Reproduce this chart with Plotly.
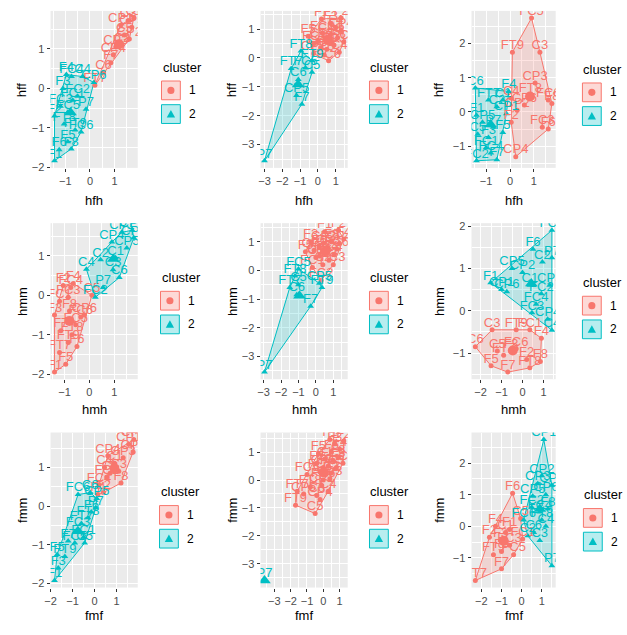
import plotly.graph_objects as go

W, H = 627, 635
RED, TEAL = "#F8766D", "#00BFC4"
COLS = {1: RED, 2: TEAL}
FILLS = {1: "rgba(248,118,109,0.2)", 2: "rgba(0,191,196,0.2)"}
KEYFILLS = {1: "rgba(248,118,109,0.28)", 2: "rgba(0,191,196,0.28)"}
SYMS = {1: "circle", 2: "triangle-up"}
FONT = "Liberation Sans, Arial, sans-serif"

x_titles = ["hfh", "hfh", "hfh", "hmh", "hmh", "hmh", "fmf", "fmf", "fmf"]
y_titles = ["hff", "hff", "hff", "hmm", "hmm", "hmm", "fmm", "fmm", "fmm"]
legend_title = "cluster"
legend_labels = ["1", "2"]

# ---------------- panel 1 (hfh / hff) ----------------
p1_lab = ["CP1", "C3", "C1", "C5", "CP3", "CP5", "C2", "F7", "C6", "CP4", "CP2", "FT7",
          "F1", "F2", "F3", "F4", "F5", "F6", "F8", "FC1", "FC2", "FC3", "FC4", "FC5", "FC6",
          "FT8", "FT9", "C4", "CP6", "P7"]
p1_x = [1.25, 1.55, 1.78, 1.4, 1.05, 1.7, 1.3, 0.85, 0.55, 0.95, 1.6, 0.2,
        -1.44, -1.44, -1.1, -0.96, -0.9, -1.25, -0.76, -0.7, -0.5, -1.2, -0.75, -0.9, -0.36,
        -1.05, -0.6, -0.3, 0.16, -0.16]
p1_y = [1.6, 1.72, 1.78, 1.35, 1.05, 1.55, 1.1, 0.65, 0.4, 0.85, 1.25, 0.08,
        -1.83, -0.7, 0.0, 0.35, -1.35, -1.55, -1.53, -0.3, -0.2, -0.45, 0.3, -0.6, -1.1,
        -0.9, -1.05, 0.3, 0.15, -0.53]
p1_cl = [1] * 12 + [2] * 18

# ---------------- panel 2 (hfh / hff) ----------------
p2_lab = ["P7", "FT7", "FT8", "FT9", "C5", "C6", "F7", "FC5", "CP5",
          "F1", "F2", "F3", "F4", "F5", "F6", "F8", "FC1", "FC2", "FC3", "FC4", "FC6",
          "C1", "C2", "C3", "C4", "CP1", "CP2", "CP3", "CP4", "CP6"]
p2_x = [-3.0, -1.5, -0.95, -0.33, -0.33, -1.1, -0.9, -0.7, -1.2,
        0.2, 1.3, 0.7, 1.0, -0.55, 0.4, 1.1, -0.2, 0.25, 0.9, 1.45, 0.6,
        0.0, 0.5, 0.8, 1.2, -0.25, 0.35, 0.7, 1.3, 0.15]
p2_y = [-3.56, -0.37, 0.24, -0.1, -0.5, -0.75, -1.6, -0.35, -1.3,
        1.35, 1.38, 1.2, 1.05, 0.75, 0.6, 0.7, 0.5, 0.85, 0.45, 0.55, -0.1,
        0.6, 0.3, 0.5, 0.2, 0.15, 0.1, 0.8, 0.95, 0.35]
p2_cl = [2] * 9 + [1] * 21

# ---------------- panel 3 (hfh / hff) ----------------
p3_lab = ["FC5", "FT9", "C3", "CP3", "FT8", "FC6", "CP2", "FC3", "CP4", "F8", "F6", "C4", "F2", "CP6",
          "C6", "F4", "FT7", "C2", "C1", "CP1", "F1", "CP5", "P7", "C5", "F3", "F5", "FC1", "FC2",
          "F7", "FC4"]
p3_x = [0.9, 0.1, 1.25, 1.05, 0.85, 1.6, 0.3, 1.35, 0.24, 1.75, 1.6, 0.05, 0.05, 0.6,
        -1.45, -0.05, -0.9, -0.55, -0.3, -0.15, -1.4, -1.15, -0.7, -1.35, -0.9, -0.3, -1.0, -1.4,
        -0.55, -0.8]
p3_y = [2.75, 1.75, 1.75, 0.85, 0.5, 0.35, 0.05, -0.45, -1.31, 0.25, -0.5, 0.4, -0.3, 0.2,
        0.7, 0.6, 0.35, 0.15, 0.35, -0.05, -0.1, -0.3, -0.45, -0.65, -0.75, -0.6, -1.05, -1.43,
        -1.4, -1.2]
p3_cl = [1] * 14 + [2] * 16

# ---------------- panel 4 (hmh / hmm) ----------------
p4_lab = ["C4", "P7", "FC2", "C2", "C1", "C3", "CP4", "CP1", "CP2", "CP3", "CP5", "C6",
          "F1", "F2", "F3", "F4", "F5", "F6", "F7", "F8", "FC1", "FC3", "FC4", "FC5", "FC6",
          "FT7", "FT8", "FT9", "C5", "CP6"]
p4_x = [-0.12, 0.55, 0.24, 0.45, 1.05, 0.95, 0.9, 1.3, 1.72, 1.78, 1.5, 1.2,
        -1.4, -1.05, -1.4, -0.65, -0.95, -0.5, -1.15, -0.8, -1.2, -0.85, -0.75, -0.55, -0.35,
        -1.2, -0.7, -0.85, 0.1, -0.2]
p4_y = [0.66, 0.2, -0.05, 0.9, 0.95, 0.65, 1.35, 1.6, 1.65, 1.46, 1.2, 0.45,
        -1.95, 0.25, -0.5, 0.3, -1.75, -1.3, -0.9, -0.4, -0.15, -0.05, 0.2, -0.75, -0.55,
        -1.45, -1.0, -1.2, 0.0, -0.5]
p4_cl = [2] * 12 + [1] * 18

# ---------------- panel 5 (hmh / hmm) ----------------
p5_lab = ["P7", "FT7", "FC5", "FT8", "C5", "CP5", "FT9", "C6", "F7",
          "F1", "F2", "F3", "F4", "F5", "F6", "F8", "FC1", "FC2", "FC3", "FC4", "FC6",
          "C1", "C2", "C3", "C4", "CP1", "CP2", "CP3", "CP4", "CP6"]
p5_x = [-2.95, -1.5, -1.0, -1.2, -1.0, 0.2, 0.35, -1.1, -0.3,
        0.5, 1.3, -0.3, 1.6, -0.6, 0.2, 0.9, -0.2, 0.3, 1.0, 0.6, 1.2,
        0.0, 0.4, 0.75, 1.05, -0.1, 0.45, 0.7, 1.35, 0.2]
p5_y = [-3.55, -0.6, 0.05, -0.2, -0.5, -0.45, -0.6, -0.85, -1.25,
        1.35, 1.4, 1.0, 1.1, 0.65, 0.8, 1.0, 0.1, -0.35, 0.2, 0.6, 0.75,
        0.45, 0.2, 0.35, 0.55, 0.7, 0.95, 0.8, 0.95, 0.5]
p5_cl = [2] * 9 + [1] * 21

# ---------------- panel 6 (hmh / hmm) ----------------
p6_lab = ["FC5", "F6", "P7", "CP5", "CP2", "F1", "CP1", "CP6", "C1", "FC2", "FC4", "FC3",
          "CP4", "C4", "C2", "CP3",
          "C6", "C3", "FT9", "FC1", "F4", "F8", "FT8", "F7", "F5", "F3", "F2", "FT7", "FC6", "C5"]
p6_x = [1.4, 0.5, 1.4, -0.5, 0.0, -1.52, -1.0, -0.75, 0.35, 0.9, 0.65, 0.45,
        1.2, 1.4, 0.95, 1.3,
        -2.25, -1.45, -0.3, 0.35, 0.9, 0.85, 0.35, -0.7, -1.5, -0.55, 0.2, -0.9, -0.3, -1.2]
p6_y = [1.9, 1.45, 1.25, 1.0, 0.9, 0.66, 0.5, 0.45, 0.6, 0.4, 0.15, -0.05,
        -0.2, -0.46, 1.15, 0.6,
        -0.85, -0.45, -0.45, -0.45, -0.65, -1.2, -1.35, -1.45, -1.3, -0.95, -1.15, -1.05, -0.9, -0.95]
p6_cl = [2] * 16 + [1] * 14

# ---------------- panel 7 (fmf / fmm) ----------------
p7_lab = ["F1", "F3", "F5", "FT9", "F7", "FC5", "FT7", "FC3", "C5", "FC1", "FT8", "FC6",
          "C6", "CP5", "F6", "P7",
          "F4", "FC4", "F2", "FC2", "C4", "C2", "C1", "CP4", "C3", "CP3", "CP1", "CP2", "CP6", "F8"]
p7_x = [-1.82, -1.65, -1.7, -1.35, -1.2, -0.9, -0.6, -0.75, -0.45, -0.5, -0.3, -0.75,
        -0.2, 0.1, -0.15, 0.05,
        0.15, 0.2, 0.4, 0.55, 0.45, 0.7, 0.9, 0.6, 1.1, 1.3, 1.55, 1.78, 1.75, 1.2]
p7_y = [-1.92, -1.6, -1.25, -1.3, -0.9, -0.95, -0.45, -0.6, -0.95, -0.8, -0.3, 0.3,
        0.35, 0.2, -0.15, -0.05,
        0.3, 0.55, 0.35, 0.75, 1.0, 0.85, 1.1, 1.3, 0.9, 1.25, 1.6, 1.72, 1.4, 0.6]
p7_cl = [2] * 16 + [1] * 14

# ---------------- panel 8 (fmf / fmm) ----------------
p8_lab = ["P7",
          "F1", "F2", "F3", "F4", "F5", "F6", "F7", "F8", "FC1", "FC2", "FC3", "FC4", "FC5", "FC6",
          "FT7", "FT8", "FT9", "C1", "C2", "C3", "C4", "C5", "C6", "CP1", "CP2", "CP3", "CP4",
          "CP5", "CP6"]
p8_x = [-3.6,
        0.4, 1.25, 0.7, 1.0, -0.3, 0.5, -0.4, 0.9, -0.2, 0.3, 0.6, 1.2, -1.0, 0.0,
        -1.6, -0.8, -1.7, 0.1, 0.5, 0.8, 0.3, -0.5, -0.4, -0.1, 0.15, 0.4, -0.2,
        -1.2, 0.0]
p8_y = [-3.6,
        1.45, 1.4, 1.3, 1.1, 0.95, 1.0, 0.6, 0.8, 0.3, 0.5, 0.7, 0.6, 0.2, 0.0,
        -0.4, -0.25, -0.9, 0.75, 0.25, 0.45, -0.4, -1.2, -0.55, -0.2, 0.2, 0.05, -0.7,
        -0.5, 0.45]
p8_cl = [2] + [1] * 29

# ---------------- panel 9 (fmf / fmm) ----------------
p9_lab = ["FT7", "F6", "F4", "F2", "C5", "C1", "F1", "F3", "F5", "F7", "FC1", "FC3", "FC5", "FT9",
          "CP1", "CP2", "CP3", "CP4", "CP5", "CP6", "FC2", "F8", "FC4", "FC6", "C6", "C2", "C3",
          "C4", "FT8", "P7"]
p9_x = [-2.3, -0.45, -1.3, -1.6, -0.05, -0.8, -0.6, -1.05, -1.0, -1.0, 0.05, -0.6, -0.4, -1.4,
        1.1, 1.0, 0.8, 1.5, 0.55, 1.2, 0.5, 1.3, 0.9, 0.1, 0.6, 0.3, 0.9,
        1.2, 1.0, 1.5]
p9_y = [-1.72, 1.05, 0.0, -0.35, 0.25, -0.2, -0.1, -0.45, -0.8, -1.35, -0.4, -0.6, -0.9, -0.9,
        2.75, 1.6, 1.35, 1.3, 0.95, 1.0, 0.6, 0.55, 0.45, 0.2, -0.2, -0.3, -0.45,
        0.0, 0.2, -1.25]
p9_cl = [1] * 14 + [2] * 16

panels = [
    (p1_lab, p1_x, p1_y, p1_cl), (p2_lab, p2_x, p2_y, p2_cl), (p3_lab, p3_x, p3_y, p3_cl),
    (p4_lab, p4_x, p4_y, p4_cl), (p5_lab, p5_x, p5_y, p5_cl), (p6_lab, p6_x, p6_y, p6_cl),
    (p7_lab, p7_x, p7_y, p7_cl), (p8_lab, p8_x, p8_y, p8_cl), (p9_lab, p9_x, p9_y, p9_cl),
]

# ---------------- layout geometry (pixels) ----------------
col_x = [(45, 133), (257, 345), (470, 555)]
row_y = [(8, 167), (223, 381), (435, 592)]
leg_pos = [(157, 65), (367, 65), (582, 67), (156, 278), (367, 278), (582, 283),
           (155, 495), (367, 495), (583, 498)]
ytitle_x = [16, 228, 437]
xtitle_y = [200, 412, 620]


def px(v):
    return v / W


def py(v):
    return 1 - v / H


def convex_hull(pts):
    pts = sorted(set(pts))
    if len(pts) <= 2:
        return pts

    def cross(o, a, b):
        return (a[0] - o[0]) * (b[1] - o[1]) - (a[1] - o[1]) * (b[0] - o[0])

    lower = []
    for p in pts:
        while len(lower) >= 2 and cross(lower[-2], lower[-1], p) <= 0:
            lower.pop()
        lower.append(p)
    upper = []
    for p in reversed(pts):
        while len(upper) >= 2 and cross(upper[-2], upper[-1], p) <= 0:
            upper.pop()
        upper.append(p)
    return lower[:-1] + upper[:-1]


fig = go.Figure()
annotations = []
shapes = []
axis_common = dict(
    showgrid=True, gridcolor="white", gridwidth=1.1, zeroline=False,
    ticks="outside", ticklen=3, tickwidth=1, tickcolor="#333333",
    tickfont=dict(family=FONT, size=11, color="#4D4D4D"),
    dtick=1, tick0=0, showline=False, fixedrange=True,
    minor=dict(dtick=0.5, tick0=0, showgrid=True, gridcolor="white", gridwidth=0.5, ticks=""),
)

for i, (lab, xs, ys, cl) in enumerate(panels):
    r, c = divmod(i, 3)
    n = "" if i == 0 else str(i + 1)
    xa, ya = "x" + n, "y" + n

    # hulls
    for k in (1, 2):
        pts = [(x, y) for x, y, g in zip(xs, ys, cl) if g == k]
        h = convex_hull(pts)
        h = h + [h[0]]
        fig.add_trace(go.Scatter(
            x=[p[0] for p in h], y=[p[1] for p in h], mode="lines", fill="toself",
            fillcolor=FILLS[k], line=dict(color=COLS[k], width=1),
            xaxis=xa, yaxis=ya, hoverinfo="skip", showlegend=False))
    # points
    for k in (1, 2):
        gx = [x for x, g in zip(xs, cl) if g == k]
        gy = [y for y, g in zip(ys, cl) if g == k]
        fig.add_trace(go.Scatter(
            x=gx, y=gy, mode="markers",
            marker=dict(symbol=SYMS[k], size=5 if k == 1 else 6, color=COLS[k], line=dict(width=0)),
            xaxis=xa, yaxis=ya, showlegend=False))
    # labels
    for k in (1, 2):
        gx = [x for x, g in zip(xs, cl) if g == k]
        gy = [y for y, g in zip(ys, cl) if g == k]
        gl = [t for t, g in zip(lab, cl) if g == k]
        fig.add_trace(go.Scatter(
            x=gx, y=gy, text=gl, mode="text", textposition="top center",
            textfont=dict(family=FONT, size=13, color=COLS[k]),
            xaxis=xa, yaxis=ya, showlegend=False, hoverinfo="skip"))
    # centers
    for k in (1, 2):
        gx = [x for x, g in zip(xs, cl) if g == k]
        gy = [y for y, g in zip(ys, cl) if g == k]
        cx, cy = sum(gx) / len(gx), sum(gy) / len(gy)
        fig.add_trace(go.Scatter(
            x=[cx], y=[cy], mode="markers",
            marker=dict(symbol=SYMS[k], size=10 if k == 1 else 11, color=COLS[k], line=dict(width=0)),
            xaxis=xa, yaxis=ya, showlegend=False))

    # axis ranges: data range expanded by 5 %
    xmin, xmax = min(xs), max(xs)
    ymin, ymax = min(ys), max(ys)
    ex, ey = 0.05 * (xmax - xmin), 0.05 * (ymax - ymin)
    x0, x1 = col_x[c]
    y0, y1 = row_y[r]
    fig.layout["xaxis" + n] = dict(domain=[px(x0), px(x1)], anchor=ya,
                                   range=[xmin - ex, xmax + ex], **axis_common)
    fig.layout["yaxis" + n] = dict(domain=[py(y1), py(y0)], anchor=xa,
                                   range=[ymin - ey, ymax + ey], **axis_common)

    # axis titles
    annotations.append(dict(text=x_titles[i], x=px((x0 + x1) / 2), y=py(xtitle_y[r]),
                            xref="paper", yref="paper", showarrow=False,
                            font=dict(family=FONT, size=13, color="black"),
                            xanchor="center", yanchor="middle"))
    annotations.append(dict(text=y_titles[i], x=px(ytitle_x[c]), y=py((y0 + y1) / 2),
                            xref="paper", yref="paper", showarrow=False, textangle=-90,
                            font=dict(family=FONT, size=13, color="black"),
                            xanchor="center", yanchor="middle"))

    # legend (drawn like the ggplot guide)
    lx, ty = leg_pos[i]
    annotations.append(dict(text=legend_title, x=px(lx - 1), y=py(ty), xref="paper", yref="paper",
                            showarrow=False, font=dict(family=FONT, size=13, color="black"),
                            xanchor="left", yanchor="middle"))
    for j, k in enumerate((1, 2)):
        top = ty + 14 + j * 24
        shapes.append(dict(type="rect", xref="paper", yref="paper",
                           x0=px(lx), x1=px(lx + 19), y0=py(top + 19), y1=py(top),
                           fillcolor=KEYFILLS[k], line=dict(color=COLS[k], width=1)))
        cxp, cyp = lx + 9.5, top + 9.5
        if k == 1:
            rr = 3.6
            shapes.append(dict(type="circle", xref="paper", yref="paper",
                               x0=px(cxp - rr), x1=px(cxp + rr), y0=py(cyp + rr), y1=py(cyp - rr),
                               fillcolor=RED, line=dict(width=0)))
        else:
            s = 4.2
            path = "M {:.5f} {:.5f} L {:.5f} {:.5f} L {:.5f} {:.5f} Z".format(
                px(cxp), py(cyp - s), px(cxp - s), py(cyp + s * 0.8), px(cxp + s), py(cyp + s * 0.8))
            shapes.append(dict(type="path", xref="paper", yref="paper", path=path,
                               fillcolor=TEAL, line=dict(width=0)))
        annotations.append(dict(text=legend_labels[j], x=px(lx + 26), y=py(cyp), xref="paper",
                                yref="paper", showarrow=False,
                                font=dict(family=FONT, size=12, color="black"),
                                xanchor="left", yanchor="middle"))

fig.update_layout(
    width=W, height=H, margin=dict(l=0, r=0, t=0, b=0),
    paper_bgcolor="white", plot_bgcolor="#EBEBEB", showlegend=False,
    font=dict(family=FONT), annotations=annotations, shapes=shapes,
)
fig.write_html("out.html")
